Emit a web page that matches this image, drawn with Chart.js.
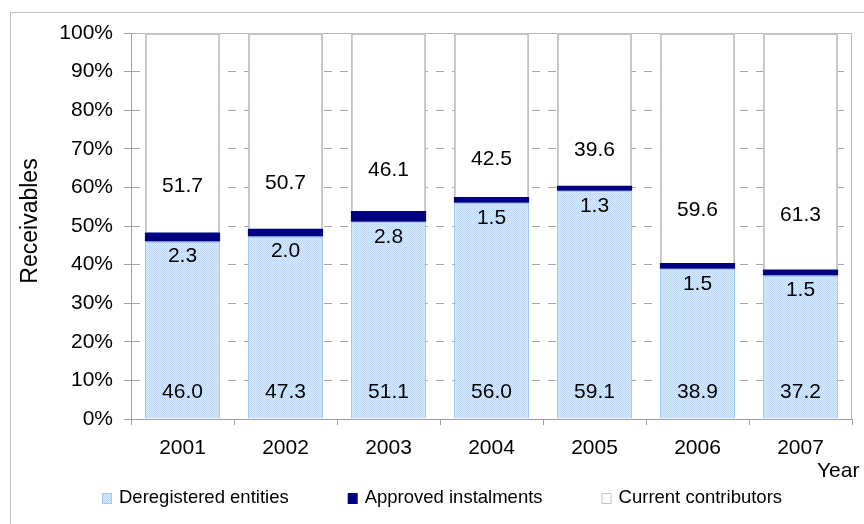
<!DOCTYPE html>
<html>
<head>
<meta charset="utf-8">
<title>Receivables</title>
<script src="https://cdn.jsdelivr.net/npm/chart.js@4.4.1/dist/chart.umd.min.js"></script>
<style>
    html, body { margin: 0; padding: 0; background: #fff; }
    #wrap { width: 864px; height: 524px; }
</style>
</head>
<body>
<div id="wrap"><canvas id="receivablesChart" width="864" height="524"></canvas></div>
<script>
// Données (en %)
const years = ['2001', '2002', '2003', '2004', '2005', '2006', '2007'];
const deregistered = [46.0, 47.3, 51.1, 56.0, 59.1, 38.9, 37.2];
const approved = [2.3, 2.0, 2.8, 1.5, 1.3, 1.5, 1.5];
const current = [51.7, 50.7, 46.1, 42.5, 39.6, 59.6, 61.3];
const seriesNames = ['Deregistered entities', 'Approved instalments', 'Current contributors'];
const yAxisTitle = 'Receivables';
const xAxisTitle = 'Year';

const FONT = "'Liberation Sans', Arial, sans-serif";
Chart.defaults.font.family = FONT;
Chart.defaults.color = '#000';

// Motif pointillé bleu clair pour la première série
function makePattern() {
    const c = document.createElement('canvas');
    c.width = 2;
    c.height = 2;
    const g = c.getContext('2d');
    g.fillStyle = '#dcecfe';
    g.fillRect(0, 0, 2, 2);
    g.fillStyle = '#b6d6f9';
    g.fillRect(0, 0, 1, 1);
    g.fillRect(1, 1, 1, 1);
    return g.createPattern(c, 'repeat');
}
const bluePattern = makePattern();

// Cadre extérieur + bordure de la zone de tracé
const framePlugin = {
    id: 'frame',
    beforeDraw(chart) {
        const ctx = chart.ctx;
        ctx.save();
        ctx.strokeStyle = '#c0c0c0';
        ctx.lineWidth = 1;
        ctx.strokeRect(10.5, 12.5, 1000, 1000);
        ctx.restore();
    },
    beforeDatasetsDraw(chart) {
        const { ctx, chartArea: a } = chart;
        ctx.save();
        ctx.strokeStyle = '#b4b4b4';
        ctx.lineWidth = 1;
        ctx.beginPath();
        ctx.moveTo(a.left, Math.round(a.top) + 0.5);
        ctx.lineTo(Math.round(a.right) - 0.5, Math.round(a.top) + 0.5);
        ctx.lineTo(Math.round(a.right) - 0.5, a.bottom);
        ctx.stroke();
        ctx.restore();
    }
};

// Étiquettes de valeurs sur les segments
const labelPlugin = {
    id: 'segmentLabels',
    afterDatasetsDraw(chart) {
        const ctx = chart.ctx;
        ctx.save();
        ctx.font = '21px ' + FONT;
        ctx.fillStyle = '#000';
        ctx.textAlign = 'center';
        ctx.textBaseline = 'middle';
        chart.data.datasets.forEach((ds, i) => {
            const meta = chart.getDatasetMeta(i);
            meta.data.forEach((bar, j) => {
                const { x, y, base } = bar.getProps(['x', 'y', 'base'], true);
                let ly;
                if (i === 0) ly = base - 26;          // en bas de la barre
                else if (i === 1) ly = base + 15;     // juste sous le segment foncé
                else ly = base - 0.23 * (base - y);   // dans la partie blanche
                ctx.fillText(ds.data[j].toFixed(1), x, ly);
            });
        });
        ctx.restore();
    }
};

// Titres d'axes et légende dessinés à la main
const legendPlugin = {
    id: 'customLegend',
    afterDraw(chart) {
        const { ctx, chartArea: a } = chart;
        ctx.save();
        ctx.fillStyle = '#000';

        // titre Y
        ctx.font = '23px ' + FONT;
        ctx.textAlign = 'center';
        ctx.textBaseline = 'middle';
        ctx.translate(31, (a.top + a.bottom) / 2 - 5);
        ctx.rotate(-Math.PI / 2);
        ctx.fillText(yAxisTitle, 0, 0);
        ctx.setTransform(1, 0, 0, 1, 0, 0);

        // titre X
        ctx.font = '21px ' + FONT;
        ctx.textAlign = 'left';
        ctx.fillText(xAxisTitle, a.right - 35, 471);

        // légende
        ctx.font = '18.5px ' + FONT;
        let x = a.left - 29;
        const y = 498;
        chart.data.datasets.forEach(ds => {
            ctx.fillStyle = ds.backgroundColor;
            ctx.fillRect(x, y - 5, 10, 11);
            if (ds.legendBorder) {
                ctx.strokeStyle = ds.legendBorder;
                ctx.lineWidth = 1;
                ctx.strokeRect(x + 0.5, y - 4.5, 9, 10);
            }
            ctx.fillStyle = '#000';
            ctx.fillText(ds.label, x + 17, y);
            x += 17 + ctx.measureText(ds.label).width + 59;
        });
        ctx.restore();
    }
};

const ctx = document.getElementById('receivablesChart').getContext('2d');
new Chart(ctx, {
    type: 'bar',
    data: {
        labels: years,
        datasets: [{
            label: seriesNames[0],
            data: deregistered,
            backgroundColor: bluePattern,
            borderColor: '#9fc9f4',
            borderWidth: 1.5,
            legendBorder: '#9fc9f4'
        }, {
            label: seriesNames[1],
            data: approved,
            backgroundColor: '#000080',
            borderWidth: 0
        }, {
            label: seriesNames[2],
            data: current,
            backgroundColor: '#ffffff',
            borderColor: '#c4c4c4',
            borderWidth: 2,
            legendBorder: '#c4c4c4'
        }]
    },
    options: {
        responsive: false,
        animation: false,
        events: [],
        categoryPercentage: 1,
        barPercentage: 0.73,
        layout: { padding: { top: 33, right: 12, bottom: 0, left: 10 } },
        plugins: {
            legend: { display: false },
            tooltip: { enabled: false }
        },
        scales: {
            x: {
                stacked: true,
                grid: {
                    offset: true,
                    drawOnChartArea: false,
                    tickLength: 6,
                    tickColor: '#a0a0a0'
                },
                border: { color: '#a0a0a0' },
                ticks: { font: { size: 21 }, padding: 11 },
                afterFit(scale) { scale.height = 105; }
            },
            y: {
                stacked: true,
                min: 0,
                max: 100,
                ticks: {
                    stepSize: 10,
                    font: { size: 21 },
                    padding: 11,
                    callback: v => v + '%'
                },
                grid: {
                    color: '#a8a8a8',
                    tickLength: 7,
                    tickColor: '#a0a0a0'
                },
                border: { color: '#a0a0a0', dash: [8, 8] },
                afterFit(scale) { scale.width = 121; }
            }
        }
    },
    plugins: [framePlugin, labelPlugin, legendPlugin]
});
</script>
</body>
</html>
